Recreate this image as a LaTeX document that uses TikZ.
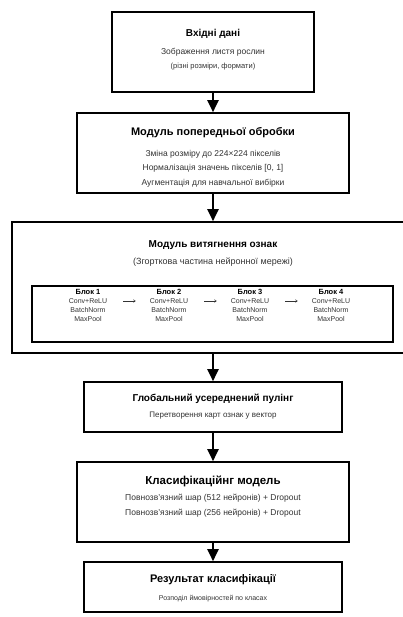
\documentclass[tikz,border=0pt]{standalone}
\usepackage{fontspec}
\setmainfont{Liberation Sans}
\usetikzlibrary{arrows.meta}

\begin{document}
\begin{tikzpicture}[
        x = 1pt, y = -1pt,
      box/.style = {draw=black, line width=1.6pt, fill=white, inner sep=0pt},
     ttl/.style = {inner sep=0pt, font=\bfseries\fontsize{10}{12}\selectfont},
     txt/.style = {inner sep=0pt, text=black!80, font=\fontsize{8.5}{10}\selectfont},
  blkttl/.style = {inner sep=0pt, font=\bfseries\fontsize{7.5}{9}\selectfont},
  blktxt/.style = {inner sep=0pt, text=black!80, font=\fontsize{7}{8}\selectfont},
     arr/.style = {line width=2pt, -{Triangle[width=11pt,length=12pt]}},
    sarr/.style = {line width=0.5pt, black!80, -{To[length=2.5pt,width=3pt]},
                   shorten <=16pt, shorten >=14pt}
                    ]
\useasboundingbox (0,0) rectangle (403,617);

\node[box, minimum width=202, minimum height=80] (0) at (213,52) {};
\node[box, minimum width=272, minimum height=80] (1) at (213,153) {};
\node[box, minimum width=402, minimum height=131] (2) at (213,287.5) {};
\node[box, line width=1.2pt, minimum width=361, minimum height=56] (2i) at (212.5,314) {};
\node[box, minimum width=258, minimum height=50] (3) at (213,407) {};
\node[box, minimum width=272, minimum height=80] (4) at (213,502) {};
\node[box, minimum width=258, minimum height=50] (5) at (213,587) {};

% input
\node[ttl] (t0) at (213,34) {Вхідні дані};
\node[txt] (t0a) at (213,52) {Зображення листя рослин};
\node[txt, font=\fontsize{7.5}{9}\selectfont] (t0b) at (213,67) {(різні розміри, формати)};

% preprocessing
\node[ttl, font=\bfseries\fontsize{11}{13}\selectfont] (t1) at (213,133) {Модуль попередньої обробки};
\node[txt] (t1a) at (213,154) {Зміна розміру до 224×224 пікселів};
\node[txt] (t1b) at (213,168.5) {Нормалізація значень пікселів [0, 1]};
\node[txt] (t1c) at (213,183) {Аугментація для навчальної вибірки};

% features
\node[ttl] (t2) at (213,245) {Модуль витягнення ознак};
\node[txt, font=\fontsize{9}{11}\selectfont] (t2a) at (213,262) {(Згорткова частина нейронної мережі)};
\foreach \i/\x in {1/88,2/169,3/250,4/331} {
  \node[blkttl] (b\i) at (\x,291.5) {Блок \i};
  \node[blktxt] (c\i) at (\x,301) {Conv+ReLU};
  \node[blktxt] (n\i) at (\x,310) {BatchNorm};
  \node[blktxt] (m\i) at (\x,319) {MaxPool};
}
\foreach \i/\j in {1/2,2/3,3/4}
  \path (c\i) edge[sarr] (c\j);

% pooling
\node[ttl] (t3) at (213,399) {Глобальний усереднений пулінг};
\node[txt, font=\fontsize{8}{10}\selectfont] (t3a) at (213,416) {Перетворення карт ознак у вектор};

% classifier
\node[ttl, font=\bfseries\fontsize{11.5}{13}\selectfont] (t4) at (213,481) {Класифікаційнг модель};
\node[txt] (t4a) at (213,498) {Повнозв'язний шар (512 нейронів) + Dropout};
\node[txt] (t4b) at (213,513) {Повнозв'язний шар (256 нейронів) + Dropout};

% result
\node[ttl, font=\bfseries\fontsize{11}{13}\selectfont] (t5) at (213,580) {Результат класифікації};
\node[txt, font=\fontsize{7}{9}\selectfont] (t5a) at (213,599) {Розподіл ймовірностей по класах};

\path (0) edge[arr] (1);
\path (1) edge[arr] (2);
\path (2) edge[arr] (3);
\path (3) edge[arr] (4);
\path (4) edge[arr] (5);

\end{tikzpicture}
\end{document}
